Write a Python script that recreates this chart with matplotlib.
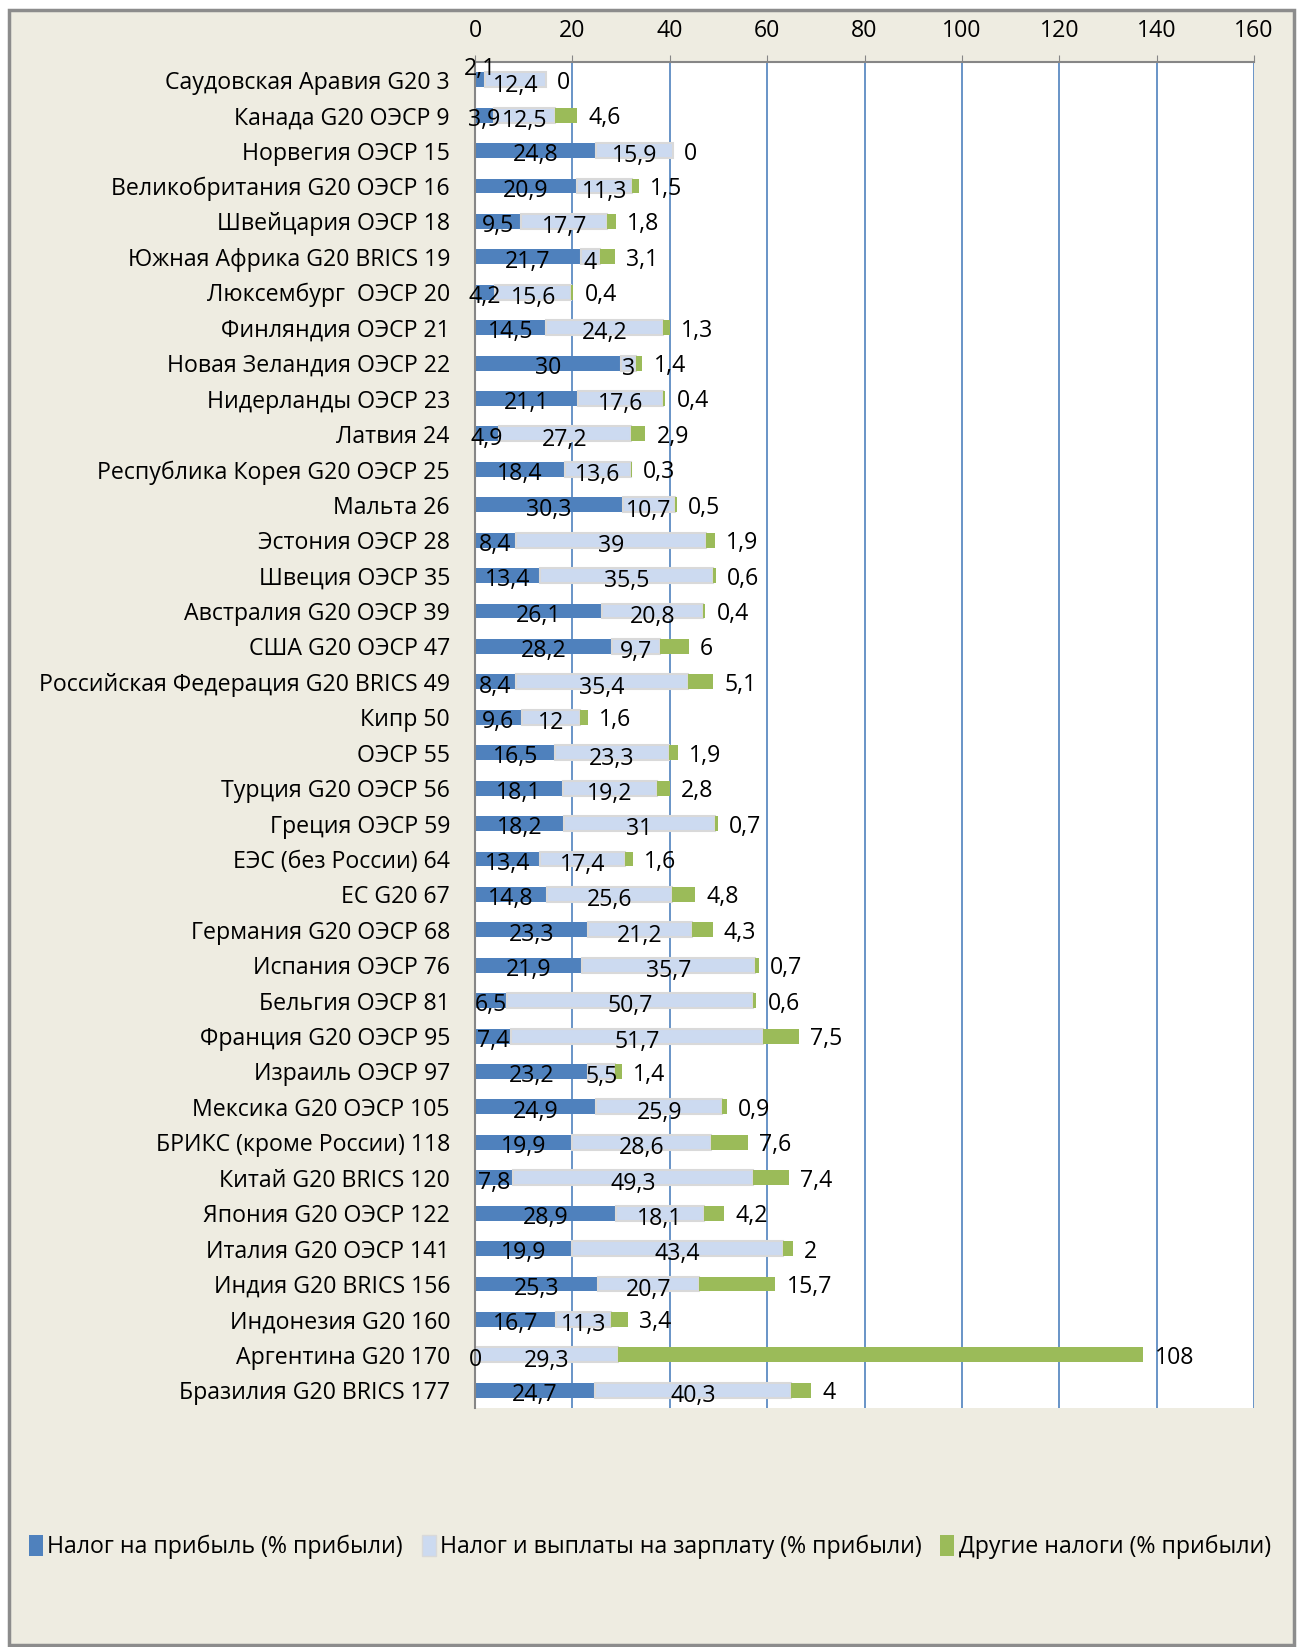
import matplotlib
matplotlib.use('Agg')
import matplotlib.pyplot as plt
from matplotlib.patches import Rectangle, Patch

plt.rcParams['font.family'] = ['Open Sans', 'DejaVu Sans']

# rows from top to bottom
countries = [
    'Саудовская Аравия G20 3', 'Канада G20 ОЭСР 9', 'Норвегия ОЭСР 15',
    'Великобритания G20 ОЭСР 16', 'Швейцария ОЭСР 18', 'Южная Африка G20 BRICS 19',
    'Люксембург  ОЭСР 20', 'Финляндия ОЭСР 21', 'Новая Зеландия ОЭСР 22',
    'Нидерланды ОЭСР 23', 'Латвия 24', 'Республика Корея G20 ОЭСР 25',
    'Мальта 26', 'Эстония ОЭСР 28', 'Швеция ОЭСР 35', 'Австралия G20 ОЭСР 39',
    'США G20 ОЭСР 47', 'Российская Федерация G20 BRICS 49', 'Кипр 50', 'ОЭСР 55',
    'Турция G20 ОЭСР 56', 'Греция ОЭСР 59', 'ЕЭС (без России) 64', 'ЕС G20 67',
    'Германия G20 ОЭСР 68', 'Испания ОЭСР 76', 'Бельгия ОЭСР 81',
    'Франция G20 ОЭСР 95', 'Израиль ОЭСР 97', 'Мексика G20 ОЭСР 105',
    'БРИКС (кроме России) 118', 'Китай G20 BRICS 120', 'Япония G20 ОЭСР 122',
    'Италия G20 ОЭСР 141', 'Индия G20 BRICS 156', 'Индонезия G20 160',
    'Аргентина G20 170', 'Бразилия G20 BRICS 177',
]
profit_tax = [2.1, 3.9, 24.8, 20.9, 9.5, 21.7, 4.2, 14.5, 30, 21.1, 4.9, 18.4,
              30.3, 8.4, 13.4, 26.1, 28.2, 8.4, 9.6, 16.5, 18.1, 18.2, 13.4, 14.8,
              23.3, 21.9, 6.5, 7.4, 23.2, 24.9, 19.9, 7.8, 28.9, 19.9, 25.3, 16.7,
              0, 24.7]
labor_tax = [12.4, 12.5, 15.9, 11.3, 17.7, 4, 15.6, 24.2, 3, 17.6, 27.2, 13.6,
             10.7, 39, 35.5, 20.8, 9.7, 35.4, 12, 23.3, 19.2, 31, 17.4, 25.6,
             21.2, 35.7, 50.7, 51.7, 5.5, 25.9, 28.6, 49.3, 18.1, 43.4, 20.7, 11.3,
             29.3, 40.3]
other_tax = [0, 4.6, 0, 1.5, 1.8, 3.1, 0.4, 1.3, 1.4, 0.4, 2.9, 0.3, 0.5, 1.9,
             0.6, 0.4, 6, 5.1, 1.6, 1.9, 2.8, 0.7, 1.6, 4.8, 4.3, 0.7, 0.6, 7.5,
             1.4, 0.9, 7.6, 7.4, 4.2, 2, 15.7, 3.4, 108, 4]
series_names = ['Налог на прибыль (% прибыли)',
                'Налог и выплаты на зарплату (% прибыли)',
                'Другие налоги (% прибыли)']
xticks = [0, 20, 40, 60, 80, 100, 120, 140, 160]

c_blue = '#4F81BD'
c_light = '#CCDAF0'
c_green = '#9BBB59'
bg = '#EEECE1'


def fmt(v):
    return f'{v:g}'.replace('.', ',')


fig = plt.figure(figsize=(13.04, 16.47), dpi=100, facecolor='white')
fig.patches.append(Rectangle((9 / 1304, 1 - 1645 / 1647), 1285 / 1304, 1635 / 1647,
                             transform=fig.transFigure, facecolor=bg,
                             edgecolor='#8C8C8C', linewidth=2.5, zorder=-10))

ax = fig.add_axes([475 / 1304, 1 - 1408 / 1647, 779 / 1304, 1346 / 1647])
ax.set_facecolor('white')

y = list(range(len(countries)))
h = 0.42
left2 = profit_tax
left3 = [a + b for a, b in zip(profit_tax, labor_tax)]
ax.barh(y, profit_tax, height=h, color=c_blue, zorder=3)
ax.barh(y, labor_tax, left=left2, height=h, color=c_light,
        edgecolor='#D9D9D9', linewidth=1.5, zorder=3)
ax.barh(y, other_tax, left=left3, height=h, color=c_green, zorder=3)

fs = 16.7
for i in y:
    p, l, o = profit_tax[i], labor_tax[i], other_tax[i]
    if 0 < p < 3:
        ax.text(p / 2, i - 0.4, fmt(p), ha='center', va='center_baseline',
                fontsize=fs, zorder=5)
    else:
        ax.text(p / 2, i + 0.05, fmt(p), ha='center', va='center_baseline',
                fontsize=fs, zorder=5)
    ax.text(p + l / 2, i + 0.08, fmt(l), ha='center', va='center_baseline',
            fontsize=fs, zorder=5)
    ax.annotate(fmt(o), (p + l + o, i), xytext=(8, 0), textcoords='offset points',
                ha='left', va='center_baseline', fontsize=fs, zorder=5)

ax.set_xlim(0, 160)
ax.set_ylim(len(countries) - 0.5, -0.5)
ax.set_xticks(xticks)
ax.xaxis.tick_top()
ax.tick_params(axis='x', direction='out', length=5, color='#868686', pad=9,
               labelsize=fs)
ax.set_yticks(y)
ax.set_yticklabels(countries)
ax.tick_params(axis='y', length=0, pad=18, labelsize=fs)
ax.grid(axis='x', color='#4F81BD', linewidth=1.2, zorder=0)
for s in ['right', 'bottom']:
    ax.spines[s].set_visible(False)
for s in ['top', 'left']:
    ax.spines[s].set_color('#868686')
    ax.spines[s].set_linewidth(1.5)
    ax.spines[s].set_zorder(4)

handles = [Patch(facecolor=c_blue), Patch(facecolor=c_light, edgecolor='#D9D9D9'),
           Patch(facecolor=c_green)]
fig.legend(handles, series_names, loc='center', bbox_to_anchor=(650 / 1304, 1 - 1547 / 1647),
           ncol=3, frameon=False, fontsize=fs, handlelength=0.6, handleheight=1.0,
           handletextpad=0.2, columnspacing=0.8)

fig.savefig('out.png', dpi=100, facecolor=fig.get_facecolor())
